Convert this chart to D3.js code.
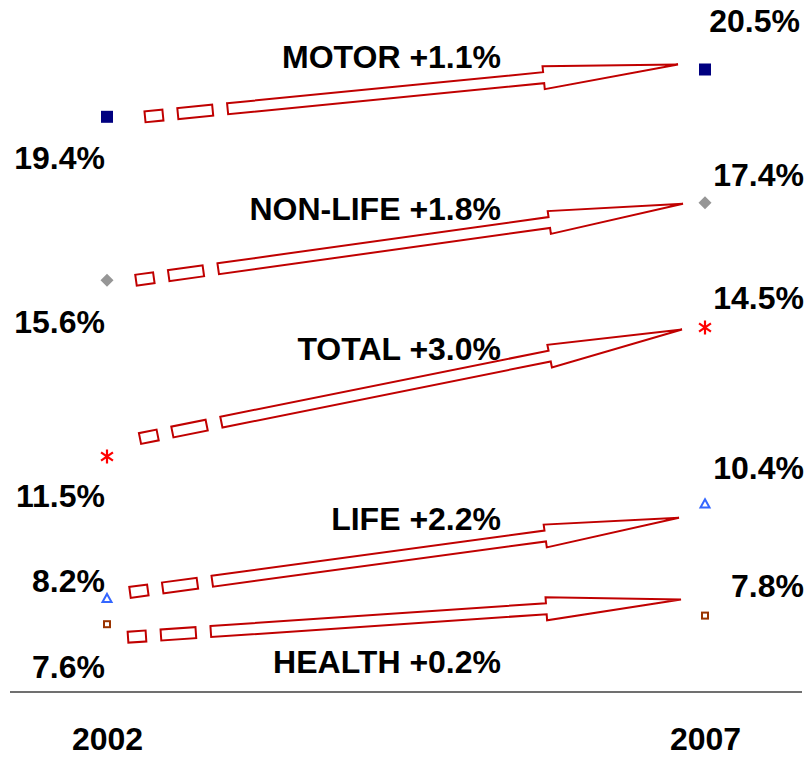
<!DOCTYPE html>
<html><head><meta charset="utf-8">
<script src="https://cdn.jsdelivr.net/npm/d3@7"></script>
<style>
html,body{margin:0;padding:0;background:#fff;}
svg{display:block;font-family:"Liberation Sans",Arial,sans-serif;font-weight:bold;}
</style></head>
<body>
<svg id="chart" width="809" height="758"></svg>
<script>
// ---- data ----
const categories = ["MOTOR", "NON-LIFE", "TOTAL", "LIFE", "HEALTH"];
const years = ["2002", "2007"];
const values2002 = [19.4, 15.6, 11.5, 8.2, 7.6];
const values2007 = [20.5, 17.4, 14.5, 10.4, 7.8];

// ---- layout (pixel offsets, hand-placed as in the reference) ----
const arrowStartDx = [38, 29, 33, 23, 21];
const arrowEndDx = [-27, -22, -23, -26, -24];
const arrowStartDy = [0, 0, -18, -6, 13];
const arrowEndDy = [-5, 1, 2, 14, -16];
const labelLeftDy = [52, 53, 50, -6, 54];
const labelRightDy = [-38, -17, -19, -25, -19];
const labelRightDx = [-4, 0, 0, 0, 0];
const catLabelDy = [0, 13, 27, 9, 70];

const markerStyles = [
  {type: "square", fill: "#000080", stroke: "none", size: 12},
  {type: "diamond", fill: "#969696", stroke: "none", size: 13},
  {type: "asterisk", fill: "none", stroke: "#ff0000", size: 14},
  {type: "triangle", fill: "none", stroke: "#3366ff", size: 9},
  {type: "hsquare", fill: "none", stroke: "#993300", size: 8}
];

const FS = 32;
const svg = d3.select("#chart");
const x = d3.scalePoint().domain(years).range([107, 705]);
const y = d3.scaleLinear().domain([6, 22]).range([693, 5]);

// axis line
const axisG = svg.append("g").attr("transform", `translate(0,${y(6) - 1})`);
const xAxis = d3.axisBottom(x).tickSize(0).tickPadding(35);
axisG.call(xAxis);
axisG.select(".domain").remove();
axisG.append("line").attr("x1", 10).attr("x2", 802).attr("y1", 0).attr("y2", 0)
  .attr("stroke", "#404040").attr("stroke-width", 1.5);
axisG.selectAll(".tick text")
  .attr("font-family", "Liberation Sans, Arial, sans-serif")
  .attr("font-weight", "bold").attr("font-size", FS).attr("fill", "#000");

// arrows
const dash1 = [0, 18], dash2 = [33, 68], shaftStart = 83;
const w = 5.5, hw = 11.5, headLen = 135;
const red = "#c00000";
categories.forEach((c, i) => {
  const x0 = x("2002") + arrowStartDx[i], y0 = y(values2002[i]) + arrowStartDy[i];
  const x1 = x("2007") + arrowEndDx[i], y1 = y(values2007[i]) + arrowEndDy[i];
  const dx = x1 - x0, dy = y1 - y0;
  const L = Math.hypot(dx, dy);
  const ang = Math.atan2(dy, dx) * 180 / Math.PI;
  const g = svg.append("g").attr("transform", `translate(${x0},${y0}) rotate(${ang})`);
  [dash1, dash2].forEach(d => {
    g.append("rect").attr("x", d[0]).attr("y", -w).attr("width", d[1] - d[0]).attr("height", 2 * w)
      .attr("fill", "#fff").attr("stroke", red).attr("stroke-width", 2);
  });
  const hb = L - headLen;
  const pts = [[shaftStart, -w], [hb, -w], [hb, -hw], [L, 0], [hb, hw], [hb, w], [shaftStart, w]];
  g.append("path").attr("d", d3.line()(pts) + "Z")
    .attr("fill", "#fff").attr("stroke", red).attr("stroke-width", 2).attr("stroke-linejoin", "miter");
});

// markers
function drawMarker(cx, cy, s) {
  const r = s.size / 2;
  if (s.type === "square") {
    svg.append("rect").attr("x", cx - r).attr("y", cy - r).attr("width", s.size).attr("height", s.size).attr("fill", s.fill);
  } else if (s.type === "diamond") {
    svg.append("path").attr("d", `M${cx},${cy - r}L${cx + r},${cy}L${cx},${cy + r}L${cx - r},${cy}Z`).attr("fill", s.fill);
  } else if (s.type === "asterisk") {
    const a = r * 0.85, b = r * 0.6;
    svg.append("path").attr("d", `M${cx},${cy - r}L${cx},${cy + r}M${cx - a},${cy - b}L${cx + a},${cy + b}M${cx - a},${cy + b}L${cx + a},${cy - b}`)
      .attr("stroke", s.stroke).attr("stroke-width", 2.2).attr("fill", "none");
  } else if (s.type === "triangle") {
    svg.append("path").attr("d", `M${cx},${cy - r}L${cx + r},${cy + r * 0.8}L${cx - r},${cy + r * 0.8}Z`)
      .attr("stroke", s.stroke).attr("stroke-width", 2).attr("fill", "#fff");
  } else if (s.type === "hsquare") {
    svg.append("rect").attr("x", cx - r + 1).attr("y", cy - r + 1).attr("width", s.size - 2).attr("height", s.size - 2)
      .attr("stroke", s.stroke).attr("stroke-width", 2).attr("fill", "#fff");
  }
}
categories.forEach((c, i) => {
  drawMarker(x("2002"), y(values2002[i]), markerStyles[i]);
  drawMarker(x("2007"), y(values2007[i]), markerStyles[i]);
});

// value labels
const fmt = d3.format(".1f");
categories.forEach((c, i) => {
  svg.append("text").attr("x", 105).attr("y", y(values2002[i]) + labelLeftDy[i])
    .attr("text-anchor", "end").attr("font-size", FS).text(fmt(values2002[i]) + "%");
  svg.append("text").attr("x", 804 + labelRightDx[i]).attr("y", y(values2007[i]) + labelRightDy[i])
    .attr("text-anchor", "end").attr("font-size", FS).text(fmt(values2007[i]) + "%");
  const diff = values2007[i] - values2002[i];
  svg.append("text").attr("x", 501).attr("y", y(values2007[i]) + arrowEndDy[i] + catLabelDy[i] + 3)
    .attr("text-anchor", "end").attr("font-size", FS)
    .text(`${c} ${diff >= 0 ? "+" : ""}${fmt(diff)}%`);
});
</script>
</body></html>
